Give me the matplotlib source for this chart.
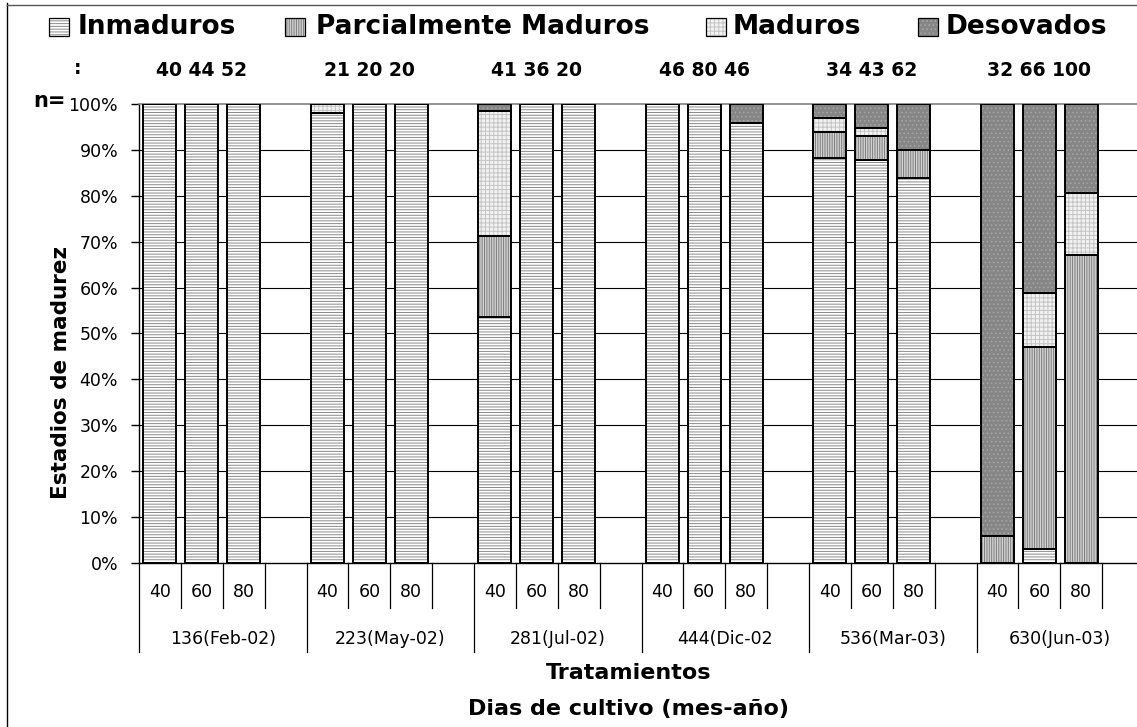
import matplotlib
matplotlib.use("Agg")
import matplotlib.pyplot as plt
from matplotlib.patches import Rectangle
from matplotlib.transforms import blended_transform_factory

# ---------------- data ----------------
groups = ["136(Feb-02)", "223(May-02)", "281(Jul-02)", "444(Dic-02", "536(Mar-03)", "630(Jun-03)"]
treatments = ["40", "60", "80"]
n_values = [["40", "44", "52"], ["21", "20", "20"], ["41", "36", "20"],
            ["46", "80", "46"], ["34", "43", "62"], ["32", "66", "100"]]
series_names = ["Inmaduros", "Parcialmente Maduros", "Maduros", "Desovados"]
inmaduros = [100, 100, 100, 98, 100, 100, 53.7, 100, 100, 100, 100, 95.8, 88.2, 87.9, 83.8, 0, 3.1, 0]
parcial = [0, 0, 0, 0, 0, 0, 17.6, 0, 0, 0, 0, 0, 5.8, 5.1, 6.1, 5.8, 44.0, 67.0]
maduros = [0, 0, 0, 2, 0, 0, 27.2, 0, 0, 0, 0, 0, 3.0, 1.7, 0, 0, 11.7, 13.7]
desovados = [0, 0, 0, 0, 0, 0, 1.5, 0, 0, 0, 0, 4.2, 3.0, 5.3, 10.1, 94.2, 41.2, 19.3]
y_ticks = [0, 10, 20, 30, 40, 50, 60, 70, 80, 90, 100]
y_title = "Estadios de madurez"
x_title1 = "Tratamientos"
x_title2 = "Dias de cultivo (mes-año)"

# ---------------- styles ----------------
plt.rcParams["font.family"] = ["DejaVu Sans"]
plt.rcParams["hatch.linewidth"] = 0.7
styles = [
    dict(fc="white", hc="#8a8a8a", hatch="------"),
    dict(fc="#d2d2d2", hc="#7c7c7c", hatch="|||||||"),
    dict(fc="#f2f2f2", hc="#c4c4c4", hatch="++++"),
    dict(fc="#868686", hc="#a4a4a4", hatch="...."),
]

W, H = 1137, 727
fig = plt.figure(figsize=(W / 100, H / 100), dpi=100)


def fx(x):
    return x / W


def fy(y):
    return 1 - y / H


ax = fig.add_axes([fx(139), fy(563), (1144 - 139) / W, (563 - 104) / H])
ax.set_xlim(-0.5, 23.5)
ax.set_ylim(0, 100)

slots = [g * 4 + t for g in range(len(groups)) for t in range(len(treatments))]
data = [inmaduros, parcial, maduros, desovados]
bottoms = [0.0] * len(slots)
bw = 0.79
for vals, st in zip(data, styles):
    xs = [s for s, v in zip(slots, vals) if v > 0]
    hs = [v for v in vals if v > 0]
    bs = [b for b, v in zip(bottoms, vals) if v > 0]
    ax.bar(xs, hs, bottom=bs, width=bw, facecolor=st["fc"], edgecolor=st["hc"],
           hatch=st["hatch"], linewidth=0, zorder=2)
    ax.bar(xs, hs, bottom=bs, width=bw, fill=False, edgecolor="black",
           linewidth=1.4, zorder=3)
    bottoms = [b + v for b, v in zip(bottoms, vals)]

# gridlines
for v in y_ticks[1:-1]:
    ax.axhline(v, color="black", lw=0.8, zorder=1)

ax.set_yticks(y_ticks)
ax.set_yticklabels([f"{v}%" for v in y_ticks])
ax.tick_params(axis="y", direction="out", length=6, width=1, labelsize=12.5, pad=9)
ax.set_xticks([])
for s in ["left", "bottom"]:
    ax.spines[s].set_color("black")
    ax.spines[s].set_linewidth(1)
ax.spines["top"].set_color("#808080")
ax.spines["top"].set_linewidth(1.2)
ax.spines["right"].set_visible(False)

# multi-level category axis
tr = blended_transform_factory(ax.transData, fig.transFigure)
nslots = len(groups) * 4
for k in range(nslots + 1):
    xb = k - 0.5
    yend = 652 if k % 4 == 0 else 608
    ax.plot([xb, xb], [fy(563), fy(yend)], color="black", lw=0.9,
            transform=tr, clip_on=False)
for s, lab in zip(slots, treatments * len(groups)):
    ax.text(s, fy(592), lab, transform=tr, ha="center", va="center", fontsize=12.5)
for g, lab in enumerate(groups):
    ax.text(g * 4 + 1.5, fy(639), lab, transform=tr, ha="center", va="center", fontsize=12.5)
    ax.text(g * 4 + 1, fy(70), " ".join(n_values[g]), transform=tr, ha="center",
            va="center", fontsize=13.5, fontweight="bold")

# titles
fig.text(fx(61), fy(373), y_title, rotation=90, ha="center", va="center",
         fontsize=15.5, fontweight="bold")
fig.text(fx(629), fy(673), x_title1, ha="center", va="center", fontsize=16, fontweight="bold")
fig.text(fx(629), fy(709), x_title2, ha="center", va="center", fontsize=16, fontweight="bold")

# n= label
fig.text(fx(66), fy(101), "n=", ha="right", va="center", fontsize=15, fontweight="bold")
fig.text(fx(78), fy(69), ":", ha="center", va="center", fontsize=13.5, fontweight="bold")

# legend
leg_pos = [(49, 78), (285, 316), (706, 733), (918, 946)]
for (bx, tx), name, st in zip(leg_pos, series_names, styles):
    fig.patches.append(Rectangle((fx(bx), fy(36)), 20 / W, 18 / H, transform=fig.transFigure,
                                 facecolor=st["fc"], edgecolor=st["hc"], hatch=st["hatch"],
                                 linewidth=0))
    fig.patches.append(Rectangle((fx(bx), fy(36)), 20 / W, 18 / H, transform=fig.transFigure,
                                 fill=False, edgecolor="black", linewidth=0.9))
    fig.text(fx(tx), fy(27), name, ha="left", va="center", fontsize=19, fontweight="bold")

# chart border
fig.add_artist(plt.Line2D([fx(7), fx(7)], [fy(3), 0], color="black", lw=1,
                          transform=fig.transFigure))
fig.add_artist(plt.Line2D([fx(7), 1], [fy(5), fy(5)], color="#555555", lw=1,
                          transform=fig.transFigure))

fig.savefig("out.png", dpi=100)
